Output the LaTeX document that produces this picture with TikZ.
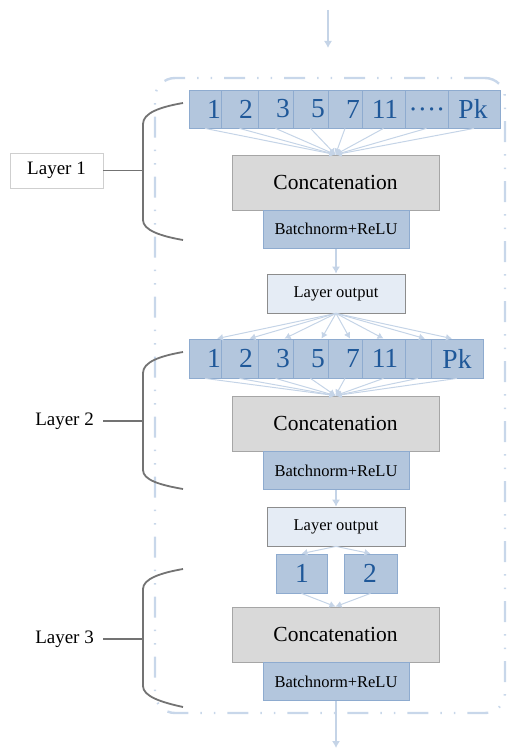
\documentclass[tikz,border=0pt]{standalone}
\usepackage{fontspec}
\setmainfont{Liberation Serif}
\usetikzlibrary{arrows.meta}
\definecolor{numfill}{HTML}{B3C6DD}
\definecolor{numborder}{HTML}{8EABCF}
\definecolor{numtext}{HTML}{1F5899}
\definecolor{catfill}{HTML}{D9D9D9}
\definecolor{catborder}{HTML}{A6A6A6}
\definecolor{outfill}{HTML}{E5ECF5}
\definecolor{outborder}{HTML}{8C8C8C}
\definecolor{connc}{HTML}{C5D4E7}
\definecolor{bracec}{HTML}{737373}
\definecolor{framec}{HTML}{C8D7EA}
\definecolor{lblborder}{HTML}{CFCFCF}
\tikzset{
  nbox/.style={draw=numborder, fill=numfill, line width=0.8pt, inner sep=0pt},
  num/.style={text=numtext, font=\fontsize{27.5}{30}\selectfont, inner sep=0pt},
  catbox/.style={draw=catborder, fill=catfill, line width=0.8pt, minimum width=207pt, minimum height=55pt, inner sep=0pt, font=\fontsize{21.5}{24}\selectfont},
  bnbox/.style={draw=numborder, fill=numfill, line width=0.8pt, minimum width=146pt, minimum height=38.5pt, inner sep=0pt, font=\fontsize{16.5}{19}\selectfont},
  outbox/.style={draw=outborder, fill=outfill, line width=0.8pt, minimum width=138pt, minimum height=39pt, inner sep=0pt, font=\fontsize{16.5}{19}\selectfont},
  conn/.style={draw=connc, line width=1.1pt, -{Latex[length=7pt,width=8pt]}, color=connc},
  fanline/.style={draw=connc, line width=1.0pt, -{Latex[length=6pt,width=7pt]}, color=connc},
  bracep/.style={draw=bracec, line width=1.8pt},
  framebox/.style={draw=framec, line width=2.4pt, rounded corners=20pt, dash pattern=on 21pt off 12pt on 1.5pt off 12pt on 1.5pt off 12pt},
  lbl/.style={font=\fontsize{19}{22}\selectfont, inner sep=0pt}
}
\begin{document}
\begin{tikzpicture}[x=1pt,y=-1pt]
\useasboundingbox (0,0) rectangle (509,751);
% frame
\node[framebox, minimum width=350pt, minimum height=635pt] (frame) at (330,395.5) {};

% ---------- Layer 1 ----------
\foreach \nm/\xl/\xr/\tx/\txt in {1a/189/221/214/1,1b/221/258/246/2,1c/258/293/283/3,1d/293/328/318/5,1e/328/362/353/7,1f/362/405/385/11,1g/405/448/427/{},1h/448/500/473/Pk}{
  \pgfmathsetmacro\bw{\xr-\xl}
  \pgfmathsetmacro\cx{(\xl+\xr)/2}
  \node[nbox, minimum width=\bw pt, minimum height=38pt] (r\nm) at (\cx,109) {};
  \node[num] (t\nm) at (\tx,109) {\txt};
}
\node[num, anchor=base] (dots1) at (427,118.5) {····};
\node[catbox] (c1) at (335.5,182.5) {Concatenation};
\node[bnbox] (bn1) at (336,229.25) {Batchnorm+ReLU};
\foreach \nm in {1a,1b,1c,1d,1e,1f,1g,1h}{
  \draw[fanline] (r\nm.south) -- (c1.north);
}

\node[outbox] (o1) at (336,293.5) {Layer output};
\draw[conn] (bn1.south) -- (o1.north);

% ---------- Layer 2 ----------
\foreach \nm/\xl/\xr/\tx/\txt in {2a/189/221/214/1,2b/221/258/246/2,2c/258/293/283/3,2d/293/328/318/5,2e/328/362/353/7,2f/362/405/385/11,2g/405/431/418/{},2h/431/483/457/Pk}{
  \pgfmathsetmacro\bw{\xr-\xl}
  \pgfmathsetmacro\cx{(\xl+\xr)/2}
  \node[nbox, minimum width=\bw pt, minimum height=39pt] (r\nm) at (\cx,358.5) {};
  \node[num] (t\nm) at (\tx,358.5) {\txt};
}
\foreach \nm/\sh in {2a/12,2b/10,2c/9,2d/11,2e/5,2f/0,2g/7,2h/-5}{
  \draw[fanline] (o1.south) -- ([xshift=\sh pt]r\nm.north);
}
\node[catbox] (c2) at (335.5,423.5) {Concatenation};
\node[bnbox] (bn2) at (336,470.5) {Batchnorm+ReLU};
\foreach \nm in {2a,2b,2c,2d,2e,2f,2g,2h}{
  \draw[fanline] (r\nm.south) -- (c2.north);
}

\node[outbox] (o2) at (336,526.5) {Layer output};
\draw[conn] (bn2.south) -- (o2.north);

% ---------- Layer 3 ----------
\node[nbox, minimum width=51pt, minimum height=39pt] (r3a) at (301.5,573.5) {};
\node[num] (t3a) at (302,573.5) {1};
\node[nbox, minimum width=53pt, minimum height=39pt] (r3b) at (370.5,573.5) {};
\node[num] (t3b) at (370,573.5) {2};
\draw[fanline] (o2.south) -- (r3a.north);
\draw[fanline] (o2.south) -- (r3b.north);
\node[catbox] (c3) at (335.5,634.5) {Concatenation};
\node[bnbox] (bn3) at (336,681.5) {Batchnorm+ReLU};
\draw[fanline] (r3a.south) -- (c3.north);
\draw[fanline] (r3b.south) -- (c3.north);

% in / out arrows
\coordinate (topstart) at (328,10);
\coordinate (topend) at (328,48);
\draw[conn] (topstart) -- (topend);
\coordinate (botend) at (336,748);
\draw[conn] (bn3.south) -- (botend);

% ---------- braces and labels ----------
\node[draw=lblborder, line width=0.8pt, fill=white, minimum width=93pt, minimum height=35pt, inner sep=0pt, font=\fontsize{19}{22}\selectfont] (L1) at (56.5,170.5) {Layer 1};
\coordinate (b1) at (143,170.5);
\draw[bracep] (183,103) .. controls (160,107) and (143,113) .. (143,124) -- (143,220) .. controls (143,230) and (160,236) .. (183,240);
\draw[bracep] (L1.east) -- (b1);

\node[lbl, inner xsep=9pt, anchor=east] (L2) at (103,421) {Layer 2};
\coordinate (b2) at (143,421);
\draw[bracep] (183,352) .. controls (160,356) and (143,362) .. (143,373) -- (143,470) .. controls (143,480) and (160,485) .. (183,489);
\draw[bracep] (L2.east) -- (b2);

\node[lbl, inner xsep=9pt, anchor=east] (L3) at (103,639) {Layer 3};
\coordinate (b3) at (143,639);
\draw[bracep] (183,569) .. controls (160,573) and (143,579) .. (143,589) -- (143,686) .. controls (143,696) and (160,702) .. (183,707);
\draw[bracep] (L3.east) -- (b3);
\end{tikzpicture}
\end{document}
